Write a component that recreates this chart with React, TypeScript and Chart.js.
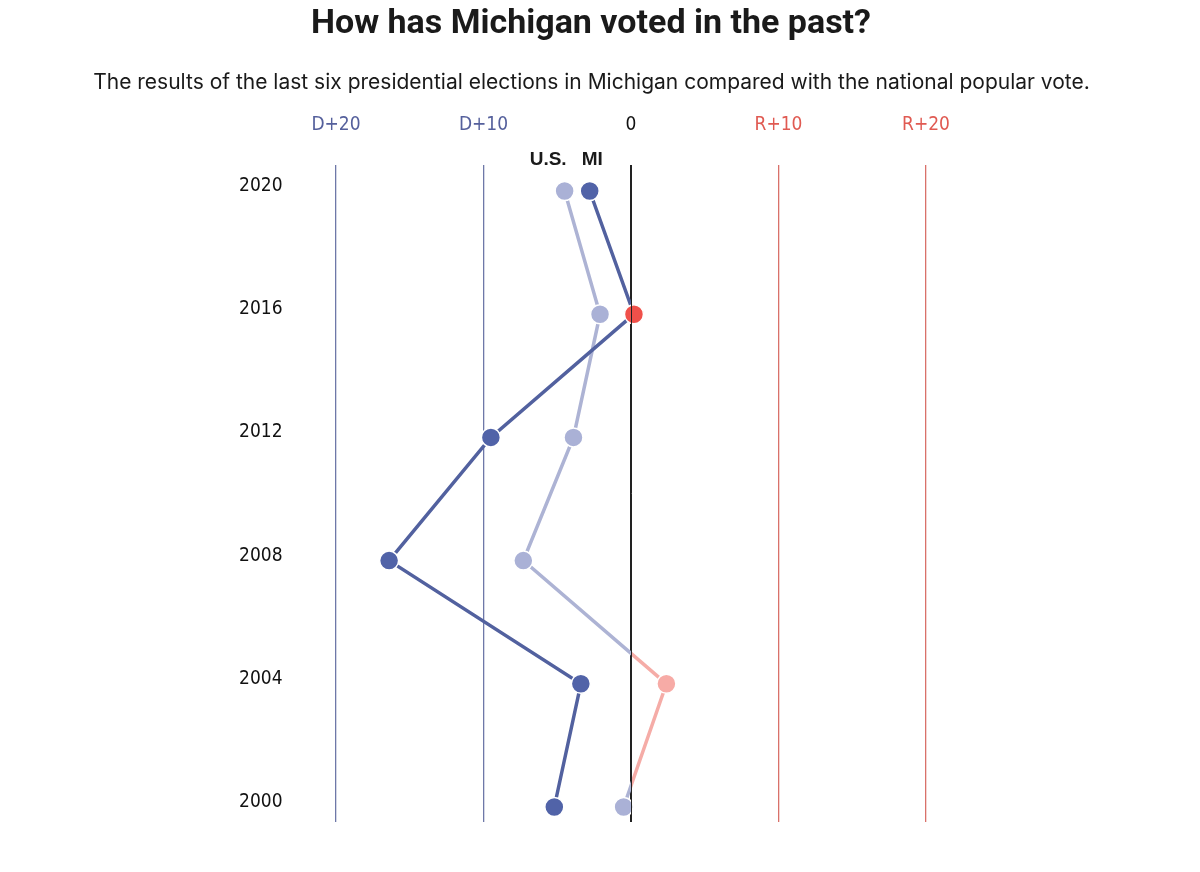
import React, { useEffect, useRef } from "react";
import { Chart, registerables } from "chart.js";

Chart.register(...registerables);

const years = [2020, 2016, 2012, 2008, 2004, 2000];
// margin in points: negative = Democratic lead, positive = Republican lead
const michigan = [-2.8, 0.2, -9.5, -16.4, -3.4, -5.2];
const national = [-4.5, -2.1, -3.9, -7.3, 2.4, -0.5];
const xTicks = [-20, -10, 0, 10, 20];
const xTickLabels = ["D+20", "D+10", "0", "R+10", "R+20"];

const TITLE = "How has Michigan voted in the past?";
const SUBTITLE =
  "The results of the last six presidential elections in Michigan compared with the national popular vote.";

const COND = "'DejaVu Sans Condensed', 'DejaVu Sans', sans-serif";

function splitGradient(chart: any, neg: string, pos: string) {
  const area = chart.chartArea;
  if (!area) return neg;
  const x0 = chart.scales.x.getPixelForValue(0);
  const g = chart.ctx.createLinearGradient(area.left, 0, area.right, 0);
  const t = Math.min(1, Math.max(0, (x0 - area.left) / (area.right - area.left)));
  g.addColorStop(0, neg);
  g.addColorStop(t, neg);
  g.addColorStop(t, pos);
  g.addColorStop(1, pos);
  return g;
}

export default function App() {
  const ref = useRef<HTMLCanvasElement | null>(null);

  useEffect(() => {
    if (!ref.current) return;

    const labelPlugin = {
      id: "labels",
      afterDatasetsDraw(chart: any) {
        const { ctx, chartArea } = chart;
        const xs = chart.scales.x;
        const ys = chart.scales.y;
        // zero line on top
        const x0 = Math.round(xs.getPixelForValue(0)) + 0.5;
        ctx.save();
        ctx.strokeStyle = "#222";
        ctx.lineWidth = 1;
        ctx.beginPath();
        ctx.moveTo(x0, chartArea.top);
        ctx.lineTo(x0, chartArea.bottom);
        ctx.stroke();
        // series labels above the 2020 points
        const y = ys.getPixelForValue(years[0]) - 31;
        ctx.font = "bold 19px 'Liberation Sans', Arial, sans-serif";
        ctx.fillStyle = "#1a1a1a";
        ctx.textBaseline = "middle";
        ctx.textAlign = "right";
        ctx.fillText("U.S.", xs.getPixelForValue(national[0]) + 2, y);
        ctx.textAlign = "left";
        ctx.fillText("MI", xs.getPixelForValue(michigan[0]) - 8, y);
        ctx.restore();
      },
    };

    const chart = new Chart(ref.current, {
      type: "scatter",
      data: {
        datasets: [
          {
            label: "MI",
            data: years.map((y, i) => ({ x: michigan[i], y })),
            showLine: true,
            borderWidth: 3.5,
            borderColor: (c: any) => splitGradient(c.chart, "#52619f", "#e8574e"),
            pointRadius: 9.5,
            pointHoverRadius: 9.5,
            pointBorderWidth: 1.5,
            pointBorderColor: "#ffffff",
            pointBackgroundColor: (c: any) =>
              c.raw && c.raw.x > 0 ? "#f0504a" : "#5163a8",
          },
          {
            label: "U.S.",
            data: years.map((y, i) => ({ x: national[i], y })),
            showLine: true,
            borderWidth: 3.5,
            borderColor: (c: any) => splitGradient(c.chart, "#adb3d4", "#f5aca7"),
            pointRadius: 9.5,
            pointHoverRadius: 9.5,
            pointBorderWidth: 1.5,
            pointBorderColor: "#ffffff",
            pointBackgroundColor: (c: any) =>
              c.raw && c.raw.x > 0 ? "#f7aba6" : "#aab1d6",
          },
        ],
      },
      options: {
        responsive: false,
        animation: false,
        layout: { padding: { left: 0, right: 244.5, top: 0, bottom: 50 } },
        plugins: {
          legend: { display: false },
          tooltip: { enabled: false },
        },
        scales: {
          x: {
            type: "linear",
            position: "top",
            min: -22,
            max: 22,
            afterBuildTicks: (s: any) => {
              s.ticks = xTicks.map((v) => ({ value: v }));
            },
            afterFit: (s: any) => {
              s.height = 165;
            },
            border: { display: false },
            grid: {
              drawTicks: false,
              lineWidth: 1.3,
              color: (c: any) =>
                c.tick && c.tick.value < 0
                  ? "#6e78a8"
                  : c.tick && c.tick.value > 0
                  ? "#d9716a"
                  : "#222",
            },
            ticks: {
              padding: 28.5,
              font: { family: COND, size: 19 },
              color: (c: any) =>
                c.tick && c.tick.value < 0
                  ? "#55609c"
                  : c.tick && c.tick.value > 0
                  ? "#e05a52"
                  : "#111",
              callback: (v: any) => {
                const i = xTicks.indexOf(Number(v));
                return i >= 0 ? xTickLabels[i] : "";
              },
            },
          },
          y: {
            type: "linear",
            position: "left",
            min: 1999.513,
            max: 2020.844,
            afterBuildTicks: (s: any) => {
              s.ticks = years.map((v) => ({ value: v }));
            },
            afterFit: (s: any) => {
              s.width = 306.5;
            },
            border: { display: false },
            grid: { display: false },
            ticks: {
              padding: 16,
              labelOffset: -5,
              font: { family: COND, size: 19 },
              color: "#111",
              callback: (v: any) => String(v),
            },
          },
        },
      },
      plugins: [labelPlugin],
    });

    return () => chart.destroy();
  }, []);

  return (
    <div style={{ position: "fixed", left: 0, top: 0, width: 1200, height: 872, background: "#fff" }}>
      <canvas ref={ref} width={1200} height={872} style={{ position: "absolute", left: 0, top: 0 }} />
      <div
        style={{
          position: "absolute",
          left: 0,
          top: 2,
          width: 1182,
          textAlign: "center",
          fontFamily: "'Roboto', 'Liberation Sans', sans-serif",
          fontWeight: 700,
          fontSize: 34,
          lineHeight: "38px",
          color: "#1a1a1a",
        }}
      >
        {TITLE}
      </div>
      <div
        style={{
          position: "absolute",
          left: 0,
          top: 70,
          width: 1183,
          textAlign: "center",
          fontFamily: "'Inter', 'Noto Sans', sans-serif",
          fontSize: 21,
          lineHeight: "24px",
          color: "#1a1a1a",
        }}
      >
        {SUBTITLE}
      </div>
    </div>
  );
}
